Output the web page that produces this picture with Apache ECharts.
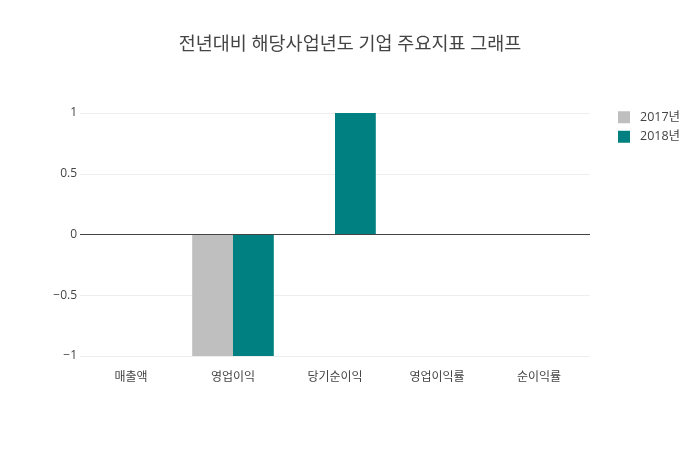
<!DOCTYPE html>
<html><head><meta charset="utf-8">
<script src="https://cdn.jsdelivr.net/npm/echarts@6/dist/echarts.min.js"></script>
<style>html,body{margin:0;padding:0;background:#fff}#c{width:700px;height:450px}</style>
</head><body><div id="c"></div>
<script>
const categories = ['매출액', '영업이익', '당기순이익', '영업이익률', '순이익률'];
const seriesNames = ['2017년', '2018년'];
const values2017 = [0, -1, 0, 0, 0];
const values2018 = [0, -1, 1, 0, 0];
const yTicks = [-1, -0.5, 0, 0.5, 1];

const font = '"Open Sans", "Noto Sans CJK KR", sans-serif';
const chart = echarts.init(document.getElementById('c'), null, {renderer: 'canvas'});
chart.setOption({
  animation: false,
  textStyle: {fontFamily: font},
  title: {
    text: '전년대비 해당사업년도 기업 주요지표 그래프',
    left: 'center', top: 30,
    textStyle: {fontSize: 18.5, fontWeight: 'normal', color: '#444', fontFamily: font}
  },
  legend: {
    data: seriesNames,
    orient: 'vertical', left: 613, top: 106,
    itemWidth: 12, itemHeight: 12, itemGap: 7,
    icon: 'rect',
    textStyle: {fontSize: 12.5, color: '#444', fontFamily: font, padding: [0, 0, 0, 5]}
  },
  grid: {left: 80, right: 110, top: 113, bottom: 94, containLabel: false, outerBoundsMode: 'none'},
  xAxis: {
    type: 'category', data: categories,
    axisLine: {show: false, onZero: false},
    axisTick: {show: false},
    axisLabel: {color: '#444', fontSize: 12, margin: 16, fontFamily: font},
    splitLine: {show: false}
  },
  yAxis: {
    type: 'value', min: yTicks[0], max: yTicks[yTicks.length - 1], interval: 0.5,
    axisLine: {show: false}, axisTick: {show: false},
    axisLabel: {color: '#444', fontSize: 12, margin: 3, fontFamily: font,
      formatter: v => (v < 0 ? '\u2212' + Math.abs(v) : String(v))},
    splitLine: {lineStyle: {color: '#eee', width: 1}}
  },
  series: [
    {name: seriesNames[0], type: 'bar', data: values2017, barGap: '0%', barCategoryGap: '20%',
     itemStyle: {color: '#bfbfbf'}, z: 2},
    {name: seriesNames[1], type: 'bar', data: values2018, barGap: '0%', barCategoryGap: '20%',
     itemStyle: {color: '#008080'}, z: 2,
     markLine: {silent: true, symbol: 'none', label: {show: false},
       lineStyle: {color: '#444', width: 1, type: 'solid'},
       data: [{yAxis: 0}], z: 5}}
  ]
});
</script></body></html>
